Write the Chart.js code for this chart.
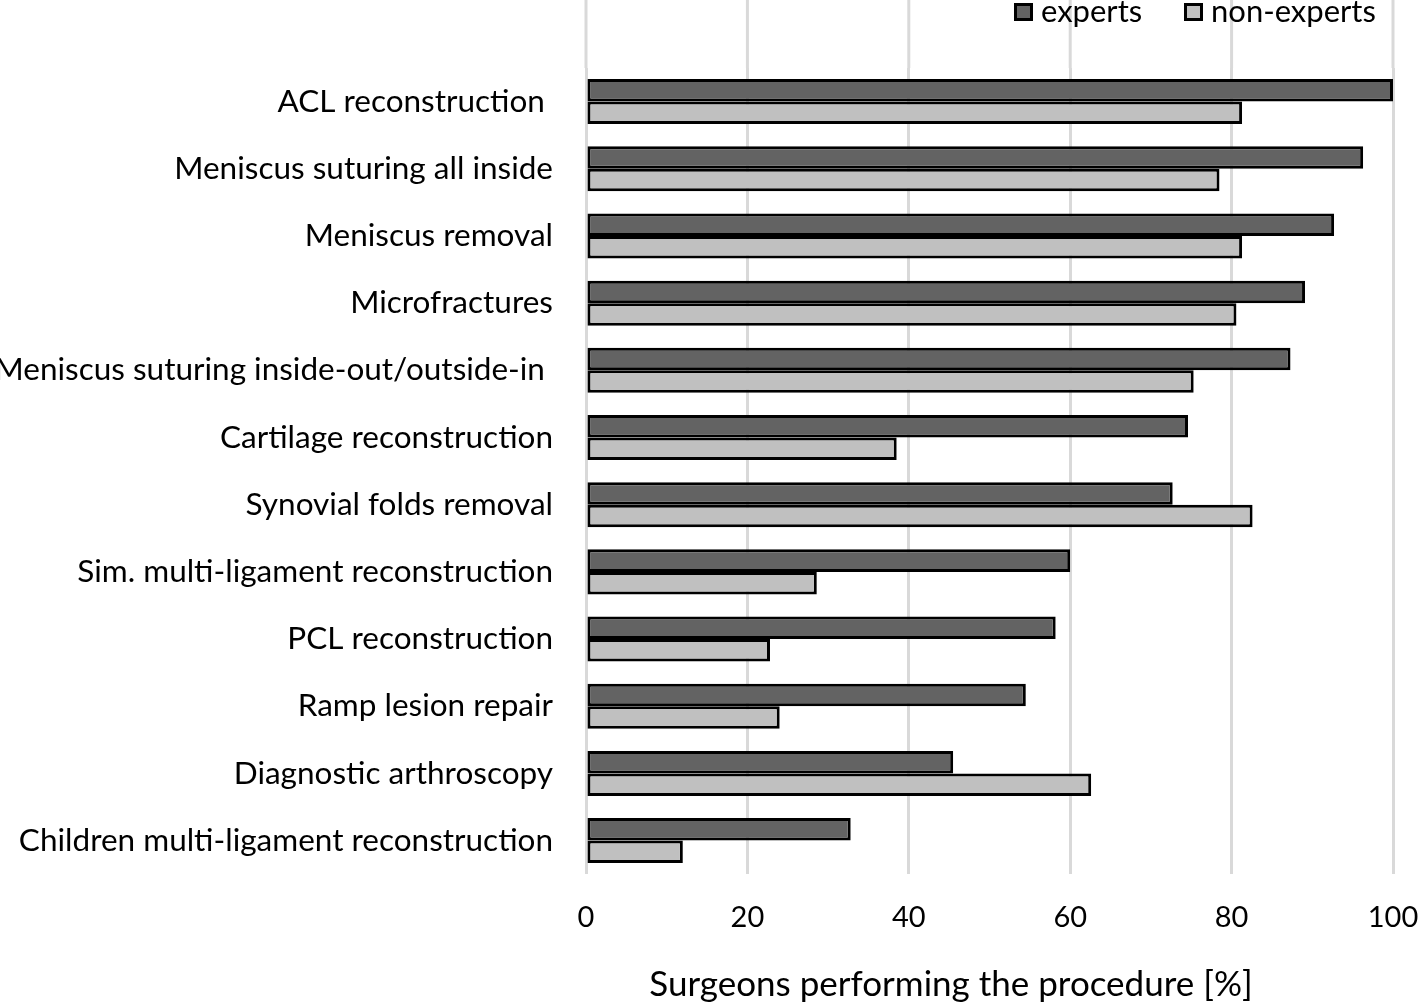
<!DOCTYPE html>
<html>
<head>
<meta charset="utf-8">
<script src="https://cdn.jsdelivr.net/npm/chart.js@4"></script>
<style>
  html, body { margin: 0; padding: 0; background: #fff; }
  #wrap { width: 1418px; height: 1003px; }
</style>
</head>
<body>
<div id="wrap"><canvas id="myChart" width="1418" height="1003"></canvas></div>
<script>
const procedures = [
    "ACL reconstruction ",
    "Meniscus suturing all inside",
    "Meniscus removal",
    "Microfractures",
    "Meniscus suturing inside-out/outside-in ",
    "Cartilage reconstruction",
    "Synovial folds removal",
    "Sim. multi-ligament reconstruction",
    "PCL reconstruction",
    "Ramp lesion repair",
    "Diagnostic arthroscopy",
    "Children multi-ligament reconstruction",
];
const experts = [100, 96.3, 92.7, 89.1, 87.3, 74.6, 72.7, 60, 58.2, 54.5, 45.5, 32.8];
const nonExperts = [81.3, 78.5, 81.3, 80.6, 75.3, 38.5, 82.6, 28.6, 22.8, 24, 62.6, 12];
const xTicks = [0, 20, 40, 60, 80, 100];
const xTitle = "Surgeons performing the procedure [%]";

const FONT = "Lato, 'Liberation Sans', sans-serif";

// grid lines in the reference run up past the first category to the top edge,
// the legend sits over that strip at the top right, and the axis title is
// centred a bit left of the plot, so those are drawn here by hand
const extras = {
    id: "extras",
    beforeDatasetsDraw(chart) {
        const c = chart.ctx, x = chart.scales.x;
        c.save();
        c.strokeStyle = "#d9d9d9";
        c.lineWidth = 3;
        xTicks.forEach((t) => {
            const px = x.getPixelForValue(t);
            c.beginPath();
            c.moveTo(px, 0);
            c.lineTo(px, chart.chartArea.top);
            c.stroke();
        });
        c.restore();
    },
    afterDraw(chart) {
        const c = chart.ctx;
        const items = [
            { x: 1014, ds: chart.data.datasets[0] },
            { x: 1184, ds: chart.data.datasets[1] },
        ];
        c.save();
        c.font = "31px " + FONT;
        c.textBaseline = "middle";
        items.forEach((it) => {
            c.fillStyle = it.ds.backgroundColor;
            c.fillRect(it.x, 3, 19, 18);
            c.strokeStyle = "#000";
            c.lineWidth = 3;
            c.strokeRect(it.x + 1.5, 4.5, 16, 15);
            c.fillStyle = "#000";
            c.fillText(it.ds.label, it.x + 27, 12);
        });
        c.font = "35px " + FONT;
        c.textAlign = "center";
        c.textBaseline = "alphabetic";
        c.fillText(xTitle, 951, 996);
        c.restore();
    },
};

document.addEventListener("DOMContentLoaded", function () {
    const ctx = document.getElementById("myChart");

    new Chart(ctx, {
        type: "bar",
        data: {
            labels: procedures,
            datasets: [
                {
                    label: "experts",
                    data: experts,
                    backgroundColor: "#636363",
                    borderColor: "#000",
                    borderWidth: 3,
                    borderSkipped: false,
                },
                {
                    label: "non-experts",
                    data: nonExperts,
                    backgroundColor: "#c0c0c0",
                    borderColor: "#000",
                    borderWidth: 3,
                    borderSkipped: false,
                },
            ],
        },
        plugins: [extras],
        options: {
            indexAxis: "y",
            responsive: false,
            animation: false,
            categoryPercentage: 0.67,
            barPercentage: 1,
            layout: { padding: { top: 68, right: 0, bottom: 42, left: 0 } },
            plugins: {
                legend: { display: false },
                tooltip: { enabled: false },
            },
            scales: {
                x: {
                    min: 0,
                    max: 100,
                    afterBuildTicks(scale) {
                        scale.ticks = xTicks.map((v) => ({ value: v }));
                    },
                    afterFit(scale) {
                        scale.paddingRight = 25;
                    },
                    grid: { color: "#d9d9d9", lineWidth: 3, drawTicks: false },
                    border: { display: false },
                    ticks: {
                        color: "#000",
                        font: { family: FONT, size: 29 },
                        padding: 26,
                    },
                },
                y: {
                    afterFit(scale) {
                        scale.width = 586;
                    },
                    grid: { display: false, drawTicks: false },
                    border: { display: false },
                    ticks: {
                        color: "#000",
                        font: { family: FONT, size: 31.5 },
                        padding: 33,
                    },
                },
            },
        },
    });
});
</script>
</body>
</html>
